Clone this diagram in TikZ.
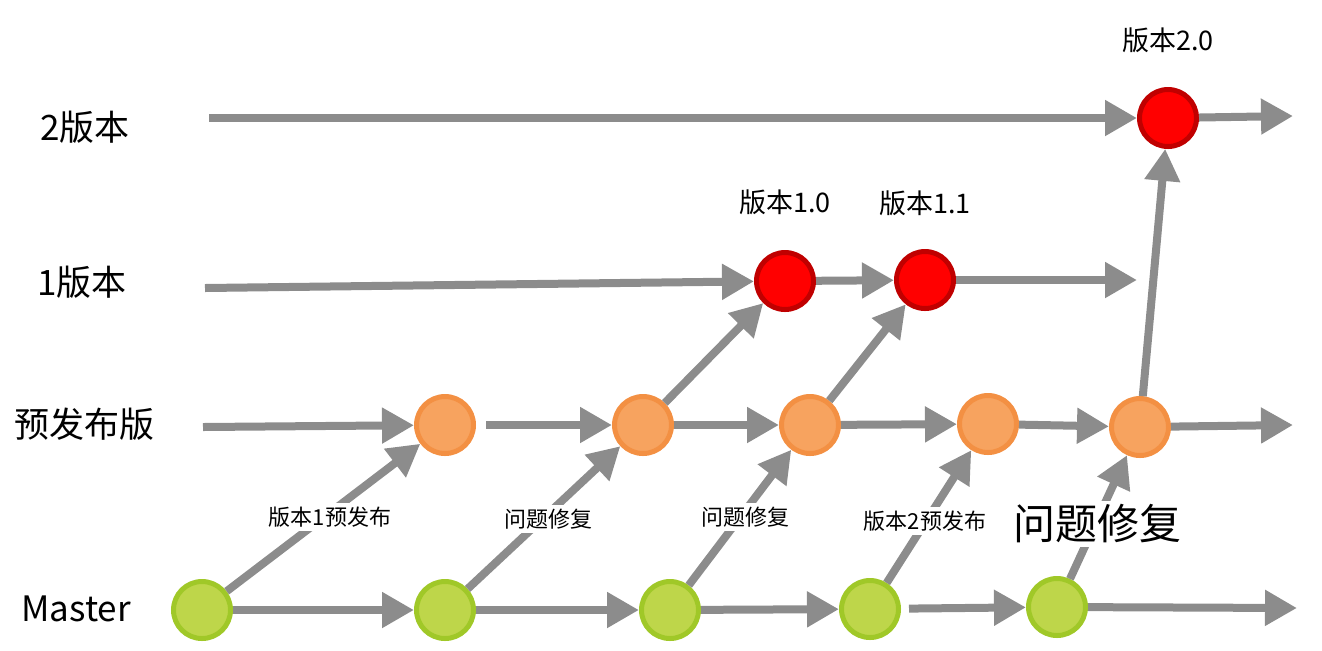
\documentclass[tikz,border=0pt]{standalone}
\usepackage{fontspec}
\setmainfont{Noto Sans CJK SC}
\usetikzlibrary{arrows.meta}
\definecolor{ArrowGray}{HTML}{8C8C8C}
\definecolor{MasterFill}{HTML}{BED64A}
\definecolor{MasterEdge}{HTML}{A0C828}
\definecolor{PreFill}{HTML}{F7A35F}
\definecolor{PreEdge}{HTML}{F39043}
\definecolor{RelFill}{HTML}{FF0000}
\definecolor{RelEdge}{HTML}{C00000}
\tikzstyle{none}=[inner sep=0pt]
\tikzstyle{arrow}=[-{Triangle[width=17pt,length=16pt]},draw=ArrowGray,line width=4pt]
\tikzstyle{master}=[circle,minimum size=28.5pt,inner sep=0pt,fill=MasterFill,draw=MasterEdge,line width=2.5pt]
\tikzstyle{pre}=[circle,minimum size=28.5pt,inner sep=0pt,fill=PreFill,draw=PreEdge,line width=2.5pt]
\tikzstyle{rel}=[circle,minimum size=28.5pt,inner sep=0pt,fill=RelFill,draw=RelEdge,line width=2.5pt]
\tikzstyle{row}=[inner sep=0pt,font=\fontsize{17.5}{20}\selectfont]
\tikzstyle{tag}=[inner sep=2pt,fill=white,font=\fontsize{11}{13}\selectfont]
\tikzstyle{ver}=[inner sep=0pt,font=\fontsize{13.5}{15}\selectfont]

\begin{document}
\begin{tikzpicture}[x=0.5pt,y=-0.5pt]
  \useasboundingbox (0,0) rectangle (1322,650);
  % row labels
  \node [style=row] (l2) at (85,127) {2版本};
  \node [style=row] (l1) at (82,282) {1版本};
  \node [style=row] (lp) at (84,424) {预发布版};
  \node [style=row] (lm) at (76,609) {Master};
  % free ends
  \coordinate (s2) at (209,118);
  \coordinate (s1) at (205,288);
  \coordinate (sp) at (203,427);
  \coordinate (e2) at (1293,116);
  \coordinate (e1) at (1137,280);
  \coordinate (ep) at (1293,425);
  \coordinate (em) at (1297,608);
  % commits
  \node [style=master] (m1) at (202,610) {};
  \node [style=master] (m2) at (445,610) {};
  \node [style=master] (m3) at (670,610) {};
  \node [style=master] (m4) at (870,609) {};
  \node [style=master] (m5) at (1057,607) {};
  \node [style=pre] (p1) at (445,425) {};
  \node [style=pre] (p2) at (643,425) {};
  \node [style=pre] (p3) at (810,425) {};
  \node [style=pre] (p4) at (988,424) {};
  \node [style=pre] (p5) at (1140,427) {};
  \node [style=rel] (r1) at (785,281) {};
  \node [style=rel] (r2) at (925,280) {};
  \node [style=rel] (v2) at (1168,118) {};
  % version labels
  \node [style=ver] (t2) at (1168,40) {版本2.0};
  \node [style=ver] (t10) at (785,202) {版本1.0};
  \node [style=ver] (t11) at (925,203) {版本1.1};
  % horizontal arrows
  \draw [style=arrow] (s2) to (v2);
  \draw [style=arrow] (v2) to (e2);
  \draw [style=arrow] (s1) to (r1);
  \draw [style=arrow] (r1) to (r2);
  \draw [style=arrow] (r2) to (e1);
  \draw [style=arrow] (sp) to (p1);
  \draw [style=arrow, shorten <=5pt] (p1) to (p2);
  \draw [style=arrow] (p2) to (p3);
  \draw [style=arrow] (p3) to (p4);
  \draw [style=arrow] (p4) to (p5);
  \draw [style=arrow] (p5) to (ep);
  \draw [style=arrow] (m1) to (m2);
  \draw [style=arrow] (m2) to (m3);
  \draw [style=arrow] (m3) to (m4);
  \draw [style=arrow, shorten <=4pt] (m4) to (m5);
  \draw [style=arrow] (m5) to (em);
  % diagonal arrows
  \draw [style=arrow] (m1) to (p1);
  \draw [style=arrow] (m2) to (p2);
  \draw [style=arrow] (m3) to (p3);
  \draw [style=arrow] (m4) to (p4);
  \draw [style=arrow] (m5) to (p5);
  \draw [style=arrow] (p2) to (r1);
  \draw [style=arrow] (p3) to (r2);
  \draw [style=arrow] (p5) to (v2);
  % branch labels
  \node [style=tag] (d1) at (330,517) {版本1预发布};
  \node [style=tag] (d2) at (548,519) {问题修复};
  \node [style=tag] (d3) at (745,517) {问题修复};
  \node [style=tag] (d4) at (925,521) {版本2预发布};
  \node [style=tag, font=\fontsize{21}{24}\selectfont] (d5) at (1097,524) {问题修复};
\end{tikzpicture}
\end{document}
